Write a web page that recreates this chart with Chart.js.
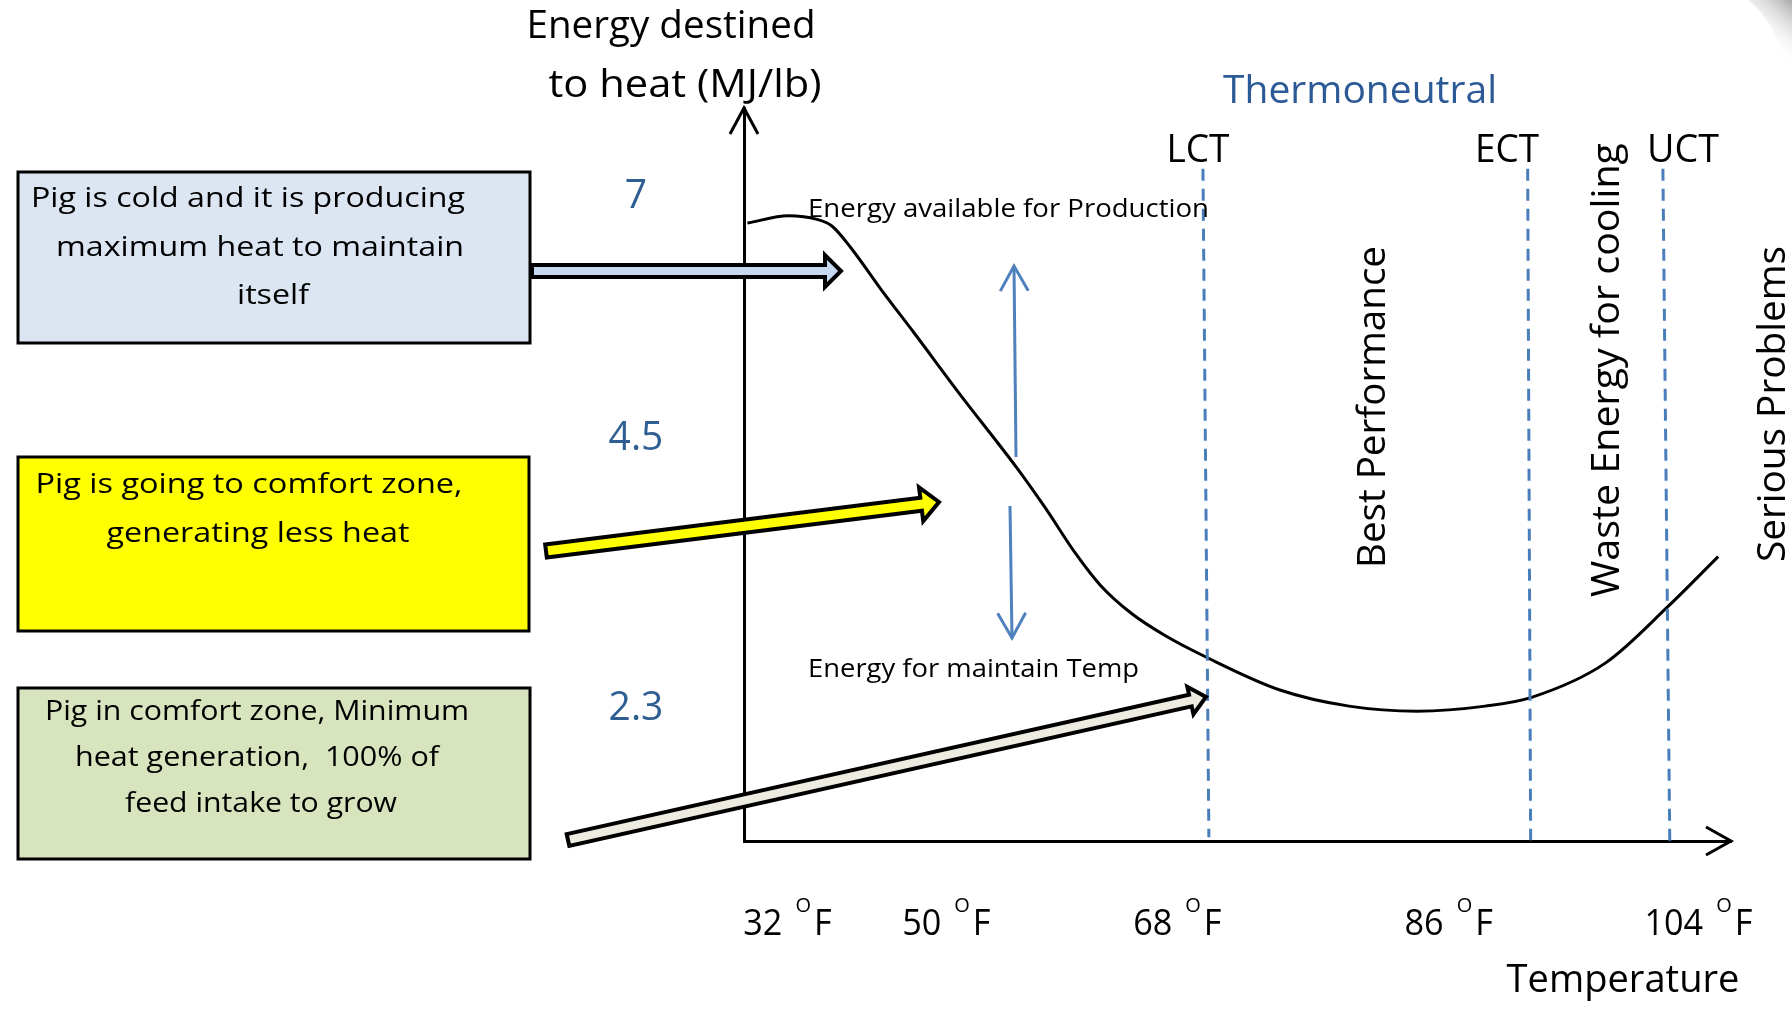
<!DOCTYPE html>
<html>
<head>
<meta charset="utf-8">
<script src="https://cdn.jsdelivr.net/npm/chart.js@4.4.1/dist/chart.umd.min.js"></script>
<style>
  html, body { margin: 0; padding: 0; background: #fff; overflow: hidden; }
</style>
</head>
<body>
<canvas id="heatChart" width="1792" height="1009"></canvas>
<script>
// Both axes use a schematic 0-100 scale (the slide is not drawn to scale)
const tempLabels = ['32', '50', '68', '86', '104'];
const tempTickPos = [4.4, 20.5, 43.9, 71.4, 96.7];
const energyLabels = ['7', '4.5', '2.3'];
const energyTickPos = [87.9, 55.0, 18.1];

// Heat production curve
const curveX = [0.35, 4.5, 7.4, 8.9, 10.9, 13.8, 17.3, 21.9, 27.7, 30.6, 33.5, 36.1, 39.3, 42.7, 46.8, 54.3, 61.3, 68.2, 75.1, 79.8, 87.3, 93.7, 98.7];
const curveY = [84.3, 85.3, 84.8, 83.9, 80.8, 75.4, 69.2, 60.9, 50.8, 45.3, 39.4, 34.9, 31.0, 28.0, 25.1, 20.6, 18.4, 17.7, 18.4, 19.6, 24.3, 32.1, 38.8];

// Critical temperatures (dashed lines)
const zoneNames = ['LCT', 'ECT', 'UCT'];
const zoneTopX = [46.5, 79.4, 93.1];
const zoneBottomX = [47.1, 79.7, 93.8];
const zoneTopY = [91.7, 91.7, 91.7];
const zoneBottomY = [0.5, 0.1, -0.6];

const FONT = '"Open Sans", "Noto Sans", sans-serif';
const BLUE_TEXT = '#2f5f92';
const BLUE_LINE = '#4a7ebb';

function drawText(ctx, str, x, y, o) {
    ctx.save();
    ctx.font = `${o.size}px ${FONT}`;
    ctx.fillStyle = o.color || '#000';
    ctx.textBaseline = o.baseline || 'alphabetic';
    ctx.textAlign = o.align || 'center';
    const w = ctx.measureText(str).width;
    const k = o.width ? o.width / w : (o.squeeze || 1);
    ctx.translate(x, y);
    if (o.rotate) ctx.rotate(o.rotate);
    ctx.scale(k, 1);
    ctx.fillText(str, 0, 0);
    ctx.restore();
}

function blockArrow(ctx, x1, y1, x2, y2, shaft, head, headLen, fill) {
    const ang = Math.atan2(y2 - y1, x2 - x1);
    const len = Math.hypot(x2 - x1, y2 - y1);
    ctx.save();
    ctx.translate(x1, y1);
    ctx.rotate(ang);
    ctx.beginPath();
    ctx.moveTo(0, -shaft);
    ctx.lineTo(len - headLen, -shaft);
    ctx.lineTo(len - headLen, -head);
    ctx.lineTo(len, 0);
    ctx.lineTo(len - headLen, head);
    ctx.lineTo(len - headLen, shaft);
    ctx.lineTo(0, shaft);
    ctx.closePath();
    ctx.fillStyle = fill;
    ctx.fill();
    ctx.lineWidth = 4;
    ctx.lineJoin = 'miter';
    ctx.strokeStyle = '#000';
    ctx.stroke();
    ctx.restore();
}

function lineArrow(ctx, x1, y1, x2, y2, color, width, wing, back) {
    const ang = Math.atan2(y2 - y1, x2 - x1);
    ctx.save();
    ctx.strokeStyle = color;
    ctx.lineWidth = width;
    ctx.lineCap = 'butt';
    ctx.beginPath();
    ctx.moveTo(x1, y1);
    ctx.lineTo(x2, y2);
    ctx.stroke();
    ctx.translate(x2, y2);
    ctx.rotate(ang);
    ctx.beginPath();
    ctx.moveTo(-back, -wing);
    ctx.lineTo(0, 0);
    ctx.lineTo(-back, wing);
    ctx.stroke();
    ctx.restore();
}

function textBox(ctx, x, y, w, h, fill, lines) {
    ctx.save();
    ctx.fillStyle = fill;
    ctx.fillRect(x, y, w, h);
    ctx.lineWidth = 3;
    ctx.strokeStyle = '#000';
    ctx.strokeRect(x, y, w, h);
    ctx.restore();
    lines.forEach(l => drawText(ctx, l[0], l[1], l[2], { size: 28, width: l[3] }));
}

const diagramPlugin = {
    id: 'diagram',
    afterDraw(chart) {
        const ctx = chart.ctx;
        const xs = chart.scales.x;
        const ys = chart.scales.y;
        const area = chart.chartArea;

        // axis arrow heads
        ctx.save();
        ctx.strokeStyle = '#000';
        ctx.lineWidth = 3;
        ctx.beginPath();
        ctx.moveTo(area.left - 14, area.top + 26);
        ctx.lineTo(area.left, area.top);
        ctx.lineTo(area.left + 14, area.top + 26);
        ctx.moveTo(area.right - 25, area.bottom - 14);
        ctx.lineTo(area.right, area.bottom);
        ctx.lineTo(area.right - 25, area.bottom + 14);
        ctx.stroke();
        ctx.restore();

        // corner shading of the slide
        ctx.save();
        const g = ctx.createLinearGradient(1792, 0, 1758, 40);
        g.addColorStop(0, '#a9a9a9');
        g.addColorStop(1, 'rgba(255,255,255,0)');
        ctx.fillStyle = g;
        ctx.beginPath();
        ctx.moveTo(1748, 0);
        ctx.lineTo(1792, 0);
        ctx.lineTo(1792, 80);
        ctx.quadraticCurveTo(1775, 20, 1748, 0);
        ctx.fill();
        ctx.restore();

        // left boxes
        textBox(ctx, 18, 172, 512, 171, '#dce6f2', [
            ['Pig is cold and it is producing', 248, 207, 434],
            ['maximum heat to maintain', 260, 256, 408],
            ['itself', 273, 304, 72]
        ]);
        textBox(ctx, 18, 457, 511, 174, '#ffff00', [
            ['Pig is going to comfort zone,', 249, 493, 427],
            ['generating less heat', 258, 542, 303]
        ]);
        textBox(ctx, 18, 688, 512, 171, '#d7e4bd', [
            ['Pig in comfort zone, Minimum', 257, 720, 424],
            ['heat generation,  100% of', 257, 766, 364],
            ['feed intake to grow', 261, 812, 272]
        ]);

        // block arrows from boxes
        blockArrow(ctx, 532, 271, 841, 271, 6, 16, 16, '#c6d9f1');
        blockArrow(ctx, 546, 551, 939, 502, 6.5, 17, 18, '#ffff00');
        blockArrow(ctx, 568, 840, 1206, 697, 6, 14, 16, '#eeece1');

        // up / down arrows between the labels
        lineArrow(ctx, 1016, 457, 1014, 266, '#4f81bd', 3, 14, 25);
        lineArrow(ctx, 1010, 506, 1012, 638, '#4f81bd', 3, 14, 25);

        // axis titles
        drawText(ctx, 'Energy destined', 671, 38, { size: 39, width: 289 });
        drawText(ctx, 'to heat (MJ/lb)', 685, 97, { size: 39, width: 273 });
        drawText(ctx, 'Temperature', 1623, 992, { size: 39, width: 233 });

        // y tick labels
        energyLabels.forEach((t, i) => {
            drawText(ctx, t, area.left - 108, ys.getPixelForValue(energyTickPos[i]), {
                size: 41, color: BLUE_TEXT, baseline: 'middle', squeeze: 0.95
            });
        });

        // x tick labels with superscript degree
        tempLabels.forEach((t, i) => {
            const cx = xs.getPixelForValue(tempTickPos[i]);
            ctx.save();
            ctx.font = `36px ${FONT}`;
            const nw = ctx.measureText(t).width * 0.95;
            const fw = ctx.measureText('F').width * 0.95;
            ctx.font = `20px ${FONT}`;
            const ow = ctx.measureText('O').width;
            ctx.restore();
            const total = nw + 13 + ow + 3 + fw;
            let x0 = cx - total / 2;
            drawText(ctx, t, x0, 935, { size: 36, align: 'left', squeeze: 0.95 });
            x0 += nw + 13;
            drawText(ctx, 'O', x0, 912, { size: 20, align: 'left' });
            x0 += ow + 3;
            drawText(ctx, 'F', x0, 935, { size: 36, align: 'left', squeeze: 0.95 });
        });

        // zone labels
        drawText(ctx, 'Thermoneutral', 1360, 103, { size: 39, width: 274, color: '#2c5a96' });
        const zoneLabelX = [1198, 1507, 1683];
        const zoneW = [63, 64, 72];
        zoneNames.forEach((n, i) => {
            drawText(ctx, n, zoneLabelX[i], 162, { size: 39, width: zoneW[i] });
        });

        drawText(ctx, 'Energy available for Production', 808, 217, { size: 25, width: 401, align: 'left' });
        drawText(ctx, 'Energy for maintain Temp', 808, 677, { size: 25, width: 331, align: 'left' });

        // vertical zone descriptions
        const up = -Math.PI / 2;
        drawText(ctx, 'Best Performance', 1374, 407, { size: 39, width: 322, rotate: up, baseline: 'middle' });
        drawText(ctx, 'Waste Energy for cooling', 1608, 370, { size: 39, width: 454, rotate: up, baseline: 'middle' });
        drawText(ctx, 'Serious Problems', 1774, 404, { size: 39, width: 316, rotate: up, baseline: 'middle' });
    }
};

const curvePoints = curveX.map((x, i) => ({ x: x, y: curveY[i] }));

const zoneSets = zoneNames.map((name, i) => ({
    label: name,
    data: [
        { x: zoneTopX[i], y: zoneTopY[i] },
        { x: zoneBottomX[i], y: zoneBottomY[i] }
    ],
    borderColor: BLUE_LINE,
    borderWidth: 3,
    borderDash: [12, 8],
    pointRadius: 0,
    tension: 0,
    clip: false
}));

const ctx = document.getElementById('heatChart').getContext('2d');
const heatChart = new Chart(ctx, {
    type: 'line',
    data: {
        datasets: [
            ...zoneSets,
            {
                label: 'Heat production',
                data: curvePoints,
                borderColor: '#000',
                borderWidth: 3,
                pointRadius: 0,
                tension: 0.4,
                cubicInterpolationMode: 'monotone',
                clip: false
            }
        ]
    },
    options: {
        responsive: false,
        animation: false,
        events: [],
        layout: {
            padding: { left: 744, right: 61, top: 108, bottom: 168 }
        },
        plugins: {
            legend: { display: false },
            tooltip: { enabled: false }
        },
        scales: {
            x: {
                type: 'linear',
                min: 0,
                max: 100,
                grid: { display: false, drawTicks: false },
                ticks: { display: false },
                border: { display: true, color: '#000', width: 3 },
                afterFit: s => { s.height = 0; }
            },
            y: {
                type: 'linear',
                min: 0,
                max: 100,
                grid: { display: false, drawTicks: false },
                ticks: { display: false },
                border: { display: true, color: '#000', width: 3 },
                afterFit: s => { s.width = 0; }
            }
        }
    },
    plugins: [diagramPlugin]
});
</script>
</body>
</html>
